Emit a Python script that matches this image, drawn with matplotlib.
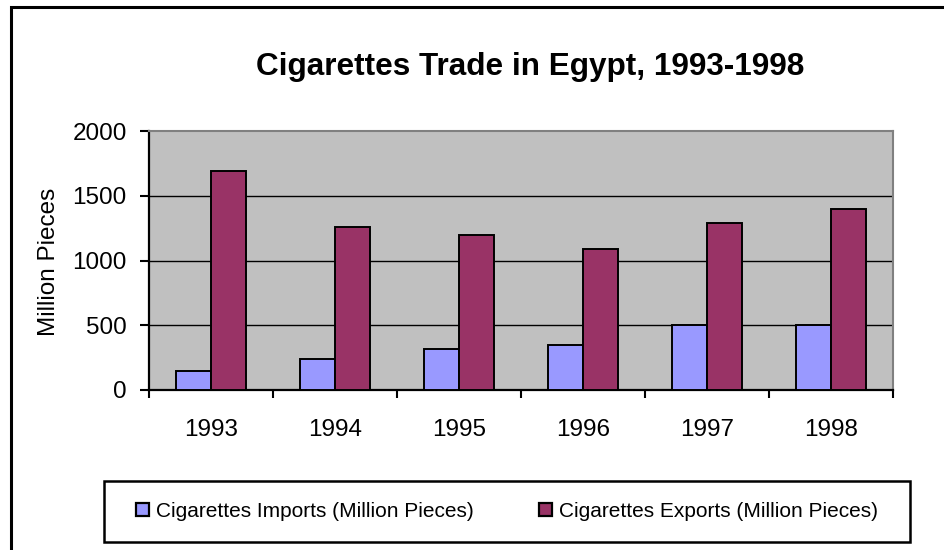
import matplotlib
matplotlib.use("Agg")
import matplotlib.pyplot as plt
from matplotlib.patches import Rectangle
import numpy as np

years = ["1993", "1994", "1995", "1996", "1997", "1998"]
imports = [150, 240, 320, 350, 500, 500]
exports = [1690, 1260, 1200, 1090, 1290, 1400]
yticks = [0, 500, 1000, 1500, 2000]
title = "Cigarettes Trade in Egypt, 1993-1998"
ylabel = "Million Pieces"
labels = ["Cigarettes Imports (Million Pieces)", "Cigarettes Exports (Million Pieces)"]

plt.rcParams['font.family'] = ['Liberation Sans', 'DejaVu Sans']

W, H = 944, 550
fig = plt.figure(figsize=(W / 100, H / 100), dpi=100)

def fx(px):
    return px / W

def fy(py):
    return 1 - py / H

# outer frame
fig.patches.append(Rectangle((fx(11), fy(560)), fx(960) - fx(11), fy(7) - fy(560),
                             transform=fig.transFigure, fill=False, edgecolor='black',
                             linewidth=2.2, zorder=0))

left, right, top, bottom = 149, 893, 131, 390
ax = fig.add_axes([fx(left), fy(bottom), fx(right) - fx(left), fy(top) - fy(bottom)])
ax.set_facecolor('#C0C0C0')

x = np.arange(len(years))
bw = 0.28
ax.bar(x - bw / 2, imports, width=bw, color='#9999FF', edgecolor='black', linewidth=1.4,
       label=labels[0], zorder=3)
ax.bar(x + bw / 2, exports, width=bw, color='#993366', edgecolor='black', linewidth=1.4,
       label=labels[1], zorder=3)

ax.set_xlim(-0.5, len(years) - 0.5)
ax.set_ylim(0, 2000)
ax.set_yticks(yticks)
ax.set_yticklabels([str(v) for v in yticks], fontsize=17.5)
ax.set_xticks(np.arange(-0.5, len(years), 1.0))
ax.set_xticklabels([])
ax.set_xticks(x, minor=True)
ax.set_xticklabels(years, minor=True, fontsize=17.5)
ax.tick_params(axis='x', which='minor', length=0, pad=21)
ax.tick_params(axis='x', which='major', length=6, width=1.5, direction='out')
ax.tick_params(axis='y', length=6.5, width=1.5, direction='out', pad=9.5)

for v in yticks[1:-1]:
    ax.axhline(v, color='black', linewidth=1.0, zorder=1)

for s in ['top', 'right']:
    ax.spines[s].set_color('#808080')
    ax.spines[s].set_linewidth(1.5)
for s in ['left', 'bottom']:
    ax.spines[s].set_color('black')
    ax.spines[s].set_linewidth(1.6)

fig.text(fx(49), fy(262), ylabel, fontsize=17.5, rotation=90, ha='center', va='center')

fig.text(fx(530), fy(75), title, fontsize=22.7, fontweight='bold', ha='center', va='baseline')

# legend
lx0, lx1, ly0, ly1 = 104, 910, 481, 542
leg = fig.legend(loc='center', bbox_to_anchor=(fx((lx0 + lx1) / 2), fy((ly0 + ly1) / 2)),
                 ncol=2, fontsize=15, frameon=False, handlelength=0.62, handleheight=0.62,
                 columnspacing=3.1, handletextpad=0.34)
for h in leg.legend_handles:
    h.set_linewidth(1.6)
fig.patches.append(Rectangle((fx(lx0), fy(ly1)), fx(lx1) - fx(lx0), fy(ly0) - fy(ly1),
                             transform=fig.transFigure, fill=False, edgecolor='black',
                             linewidth=1.8))

fig.savefig("out.png", dpi=100)
